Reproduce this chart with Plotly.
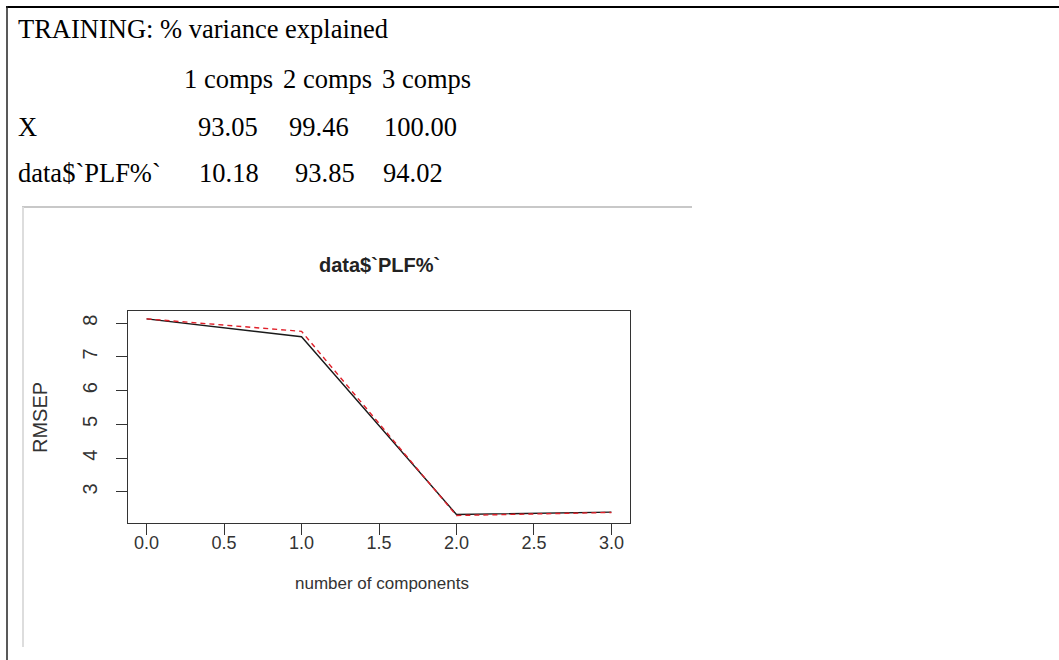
import plotly.graph_objects as go

W, H = 1059, 660

# RMSEP by number of components
n_comps = [0, 1, 2, 3]
rmsep_cv = [8.13, 7.60, 2.33, 2.40]
rmsep_adjcv = [8.13, 7.76, 2.30, 2.39]

x_ticks = [0.0, 0.5, 1.0, 1.5, 2.0, 2.5, 3.0]
x_tick_text = ["0.0", "0.5", "1.0", "1.5", "2.0", "2.5", "3.0"]
y_ticks = [3, 4, 5, 6, 7, 8]

# variance explained table
table_header = ["1 comps", "2 comps", "3 comps"]
row_x = [93.05, 99.46, 100.00]
row_plf = [10.18, 93.85, 94.02]


def px(x):
    return x / W


def py(y):
    return 1 - y / H


fig = go.Figure()
fig.add_trace(go.Scatter(x=n_comps, y=rmsep_cv, mode="lines",
                         line=dict(color="#1a1a1a", width=1.4)))
fig.add_trace(go.Scatter(x=n_comps, y=rmsep_adjcv, mode="lines",
                         line=dict(color="#e0202a", width=1.4, dash="5px,4px")))

h_font = dict(family="Liberation Sans, Arial", size=17, color="#333333")
tick_font = dict(family="Liberation Sans, Arial", size=18, color="#333333")
v_font = dict(family="Liberation Sans, Arial", size=20, color="#333333")
text_font = dict(family="Liberation Serif, Times New Roman", size=26.5, color="#000000")

ann = []
# table text
ann.append(dict(text="TRAINING: % variance explained", x=px(16), y=py(29)))
for lbl, xp in zip(table_header, [182, 281, 380]):
    ann.append(dict(text=lbl, x=px(xp), y=py(79)))
ann.append(dict(text="X", x=px(16), y=py(127)))
for v, xp in zip(row_x, [196, 287, 382]):
    ann.append(dict(text=f"{v:.2f}", x=px(xp), y=py(127)))
ann.append(dict(text="data$`PLF%`", x=px(16), y=py(173)))
for v, xp in zip(row_plf, [197, 293, 381]):
    ann.append(dict(text=f"{v:.2f}", x=px(xp), y=py(173)))
for a in ann:
    a.update(xref="paper", yref="paper", xanchor="left", yanchor="middle",
             showarrow=False, font=text_font)

# plot title and axis titles
ann.append(dict(text="<b>data$`PLF%`</b>", x=px(379), y=py(265), xref="paper", yref="paper",
                xanchor="center", yanchor="middle", showarrow=False,
                font=dict(family="Liberation Sans, Arial", size=20, color="#222222")))
ann.append(dict(text="number of components", x=px(382), y=py(583), xref="paper", yref="paper",
                xanchor="center", yanchor="middle", showarrow=False, font=h_font))
ann.append(dict(text="RMSEP", x=px(40), y=py(418), xref="paper", yref="paper",
                xanchor="center", yanchor="middle", showarrow=False, textangle=-90,
                font=v_font))

shapes = [
    # page frame
    dict(type="line", xref="paper", yref="paper", x0=px(6), x1=1, y0=py(7), y1=py(7),
         line=dict(color="#000000", width=2)),
    dict(type="line", xref="paper", yref="paper", x0=px(7), x1=px(7), y0=py(6), y1=0,
         line=dict(color="#222222", width=1.5)),
    # image border
    dict(type="line", xref="paper", yref="paper", x0=px(22), x1=px(692), y0=py(207), y1=py(207),
         line=dict(color="#c8c8c8", width=2)),
    dict(type="line", xref="paper", yref="paper", x0=px(23), x1=px(23), y0=py(207), y1=py(647),
         line=dict(color="#dddddd", width=2)),
]

fig.update_layout(
    width=W, height=H, margin=dict(l=0, r=0, t=0, b=0),
    paper_bgcolor="white", plot_bgcolor="white", showlegend=False,
    annotations=ann, shapes=shapes,
    xaxis=dict(domain=[px(128), px(630)], range=[-0.12, 3.12], tickvals=x_ticks,
               ticktext=x_tick_text, ticks="outside", ticklen=11, tickwidth=1.3,
               tickcolor="#333333", showline=True, mirror=True, linecolor="#333333",
               linewidth=1.3, showgrid=False, zeroline=False, tickfont=tick_font,
               ticklabelstandoff=-8),
    yaxis=dict(domain=[py(523), py(311)], range=[2.077, 8.363], tickvals=y_ticks,
               ticks="outside", ticklen=11, tickwidth=1.3, tickcolor="#333333",
               showline=True, mirror=True, linecolor="#333333", linewidth=1.3,
               showgrid=False, zeroline=False, tickangle=-90, tickfont=v_font,
               ticklabelstandoff=11),
)

fig.write_html("out.html")
